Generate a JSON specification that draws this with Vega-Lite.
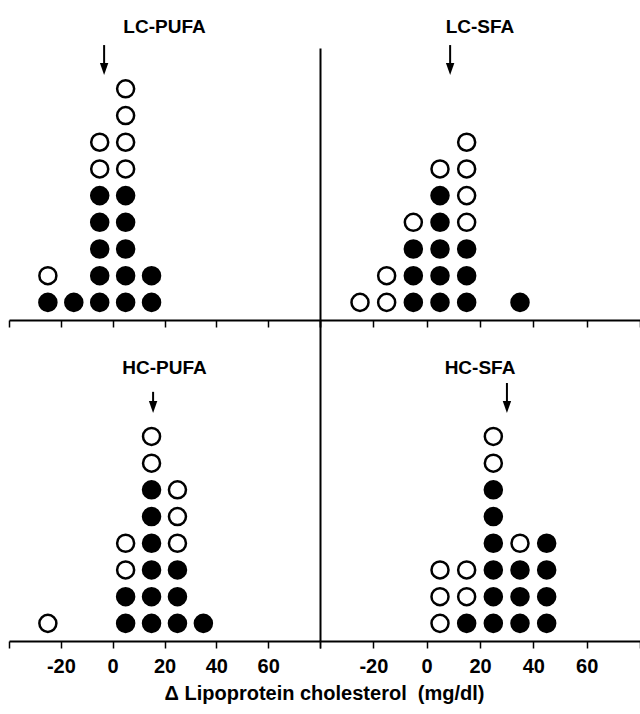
{
  "$schema": "https://vega.github.io/schema/vega-lite/v6.json",
  "padding": {"left": 8, "top": 18, "right": 0, "bottom": 0},
  "title": {"text": "Δ Lipoprotein cholesterol \u00a0(mg/dl)", "orient": "bottom", "anchor": "middle", "fontSize": 20, "fontWeight": "bold", "font": "Liberation Sans", "offset": 8, "color": "black"},
  "datasets": {
    "dots": [
      {"panel": "LC-PUFA", "change": -25, "stack": 1, "kind": "filled"},
      {"panel": "LC-PUFA", "change": -25, "stack": 2, "kind": "open"},
      {"panel": "LC-PUFA", "change": -15, "stack": 1, "kind": "filled"},
      {"panel": "LC-PUFA", "change": -5, "stack": 1, "kind": "filled"},
      {"panel": "LC-PUFA", "change": -5, "stack": 2, "kind": "filled"},
      {"panel": "LC-PUFA", "change": -5, "stack": 3, "kind": "filled"},
      {"panel": "LC-PUFA", "change": -5, "stack": 4, "kind": "filled"},
      {"panel": "LC-PUFA", "change": -5, "stack": 5, "kind": "filled"},
      {"panel": "LC-PUFA", "change": -5, "stack": 6, "kind": "open"},
      {"panel": "LC-PUFA", "change": -5, "stack": 7, "kind": "open"},
      {"panel": "LC-PUFA", "change": 5, "stack": 1, "kind": "filled"},
      {"panel": "LC-PUFA", "change": 5, "stack": 2, "kind": "filled"},
      {"panel": "LC-PUFA", "change": 5, "stack": 3, "kind": "filled"},
      {"panel": "LC-PUFA", "change": 5, "stack": 4, "kind": "filled"},
      {"panel": "LC-PUFA", "change": 5, "stack": 5, "kind": "filled"},
      {"panel": "LC-PUFA", "change": 5, "stack": 6, "kind": "open"},
      {"panel": "LC-PUFA", "change": 5, "stack": 7, "kind": "open"},
      {"panel": "LC-PUFA", "change": 5, "stack": 8, "kind": "open"},
      {"panel": "LC-PUFA", "change": 5, "stack": 9, "kind": "open"},
      {"panel": "LC-PUFA", "change": 15, "stack": 1, "kind": "filled"},
      {"panel": "LC-PUFA", "change": 15, "stack": 2, "kind": "filled"},

      {"panel": "LC-SFA", "change": -25, "stack": 1, "kind": "open"},
      {"panel": "LC-SFA", "change": -15, "stack": 1, "kind": "open"},
      {"panel": "LC-SFA", "change": -15, "stack": 2, "kind": "open"},
      {"panel": "LC-SFA", "change": -5, "stack": 1, "kind": "filled"},
      {"panel": "LC-SFA", "change": -5, "stack": 2, "kind": "filled"},
      {"panel": "LC-SFA", "change": -5, "stack": 3, "kind": "filled"},
      {"panel": "LC-SFA", "change": -5, "stack": 4, "kind": "open"},
      {"panel": "LC-SFA", "change": 5, "stack": 1, "kind": "filled"},
      {"panel": "LC-SFA", "change": 5, "stack": 2, "kind": "filled"},
      {"panel": "LC-SFA", "change": 5, "stack": 3, "kind": "filled"},
      {"panel": "LC-SFA", "change": 5, "stack": 4, "kind": "filled"},
      {"panel": "LC-SFA", "change": 5, "stack": 5, "kind": "filled"},
      {"panel": "LC-SFA", "change": 5, "stack": 6, "kind": "open"},
      {"panel": "LC-SFA", "change": 15, "stack": 1, "kind": "filled"},
      {"panel": "LC-SFA", "change": 15, "stack": 2, "kind": "filled"},
      {"panel": "LC-SFA", "change": 15, "stack": 3, "kind": "filled"},
      {"panel": "LC-SFA", "change": 15, "stack": 4, "kind": "open"},
      {"panel": "LC-SFA", "change": 15, "stack": 5, "kind": "open"},
      {"panel": "LC-SFA", "change": 15, "stack": 6, "kind": "open"},
      {"panel": "LC-SFA", "change": 15, "stack": 7, "kind": "open"},
      {"panel": "LC-SFA", "change": 35, "stack": 1, "kind": "filled"},

      {"panel": "HC-PUFA", "change": -25, "stack": 1, "kind": "open"},
      {"panel": "HC-PUFA", "change": 5, "stack": 1, "kind": "filled"},
      {"panel": "HC-PUFA", "change": 5, "stack": 2, "kind": "filled"},
      {"panel": "HC-PUFA", "change": 5, "stack": 3, "kind": "open"},
      {"panel": "HC-PUFA", "change": 5, "stack": 4, "kind": "open"},
      {"panel": "HC-PUFA", "change": 15, "stack": 1, "kind": "filled"},
      {"panel": "HC-PUFA", "change": 15, "stack": 2, "kind": "filled"},
      {"panel": "HC-PUFA", "change": 15, "stack": 3, "kind": "filled"},
      {"panel": "HC-PUFA", "change": 15, "stack": 4, "kind": "filled"},
      {"panel": "HC-PUFA", "change": 15, "stack": 5, "kind": "filled"},
      {"panel": "HC-PUFA", "change": 15, "stack": 6, "kind": "filled"},
      {"panel": "HC-PUFA", "change": 15, "stack": 7, "kind": "open"},
      {"panel": "HC-PUFA", "change": 15, "stack": 8, "kind": "open"},
      {"panel": "HC-PUFA", "change": 25, "stack": 1, "kind": "filled"},
      {"panel": "HC-PUFA", "change": 25, "stack": 2, "kind": "filled"},
      {"panel": "HC-PUFA", "change": 25, "stack": 3, "kind": "filled"},
      {"panel": "HC-PUFA", "change": 25, "stack": 4, "kind": "open"},
      {"panel": "HC-PUFA", "change": 25, "stack": 5, "kind": "open"},
      {"panel": "HC-PUFA", "change": 25, "stack": 6, "kind": "open"},
      {"panel": "HC-PUFA", "change": 35, "stack": 1, "kind": "filled"},

      {"panel": "HC-SFA", "change": 5, "stack": 1, "kind": "open"},
      {"panel": "HC-SFA", "change": 5, "stack": 2, "kind": "open"},
      {"panel": "HC-SFA", "change": 5, "stack": 3, "kind": "open"},
      {"panel": "HC-SFA", "change": 15, "stack": 1, "kind": "filled"},
      {"panel": "HC-SFA", "change": 15, "stack": 2, "kind": "open"},
      {"panel": "HC-SFA", "change": 15, "stack": 3, "kind": "open"},
      {"panel": "HC-SFA", "change": 25, "stack": 1, "kind": "filled"},
      {"panel": "HC-SFA", "change": 25, "stack": 2, "kind": "filled"},
      {"panel": "HC-SFA", "change": 25, "stack": 3, "kind": "filled"},
      {"panel": "HC-SFA", "change": 25, "stack": 4, "kind": "filled"},
      {"panel": "HC-SFA", "change": 25, "stack": 5, "kind": "filled"},
      {"panel": "HC-SFA", "change": 25, "stack": 6, "kind": "filled"},
      {"panel": "HC-SFA", "change": 25, "stack": 7, "kind": "open"},
      {"panel": "HC-SFA", "change": 25, "stack": 8, "kind": "open"},
      {"panel": "HC-SFA", "change": 35, "stack": 1, "kind": "filled"},
      {"panel": "HC-SFA", "change": 35, "stack": 2, "kind": "filled"},
      {"panel": "HC-SFA", "change": 35, "stack": 3, "kind": "filled"},
      {"panel": "HC-SFA", "change": 35, "stack": 4, "kind": "open"},
      {"panel": "HC-SFA", "change": 45, "stack": 1, "kind": "filled"},
      {"panel": "HC-SFA", "change": 45, "stack": 2, "kind": "filled"},
      {"panel": "HC-SFA", "change": 45, "stack": 3, "kind": "filled"},
      {"panel": "HC-SFA", "change": 45, "stack": 4, "kind": "filled"}
    ],
    "means": [
      {"panel": "LC-PUFA", "mean": -3.3},
      {"panel": "LC-SFA", "mean": 8.8},
      {"panel": "HC-PUFA", "mean": 15.6},
      {"panel": "HC-SFA", "mean": 30.1}
    ]
  },
  "columns": 2,
  "spacing": 0,
  "bounds": "flush",
  "resolve": {"scale": {"x": "independent", "y": "independent"}},
  "concat": [
    {
      "width": 311, "height": 272,
      "title": {"text": "LC-PUFA", "offset": -8, "baseline": "alphabetic"},
      "layer": [
        {
          "data": {"name": "dots"},
          "transform": [{"filter": "datum.panel == 'LC-PUFA'"}],
          "mark": {"type": "point", "shape": "circle", "filled": true, "size": 290, "stroke": "black", "strokeWidth": 2.5, "opacity": 1},
          "encoding": {
            "x": {"field": "change", "type": "quantitative", "scale": {"domain": [-40, 80], "nice": false, "zero": false}, "axis": {"values": [-40, -20, 0, 20, 40, 60, 80], "labels": false, "title": null}},
            "y": {"field": "stack", "type": "quantitative", "scale": {"domain": [0.34, 10.53], "nice": false, "zero": false}, "axis": null},
            "fill": {"field": "kind", "type": "nominal", "scale": {"domain": ["filled", "open"], "range": ["black", "white"]}, "legend": null}
          }
        },
        {
          "data": {"name": "means"},
          "transform": [{"filter": "datum.panel == 'LC-PUFA'"}],
          "mark": {"type": "rule", "strokeWidth": 2, "color": "black"},
          "encoding": {
            "x": {"field": "mean", "type": "quantitative"},
            "y": {"datum": 10.64},
            "y2": {"datum": 9.74}
          }
        },
        {
          "data": {"name": "means"},
          "transform": [{"filter": "datum.panel == 'LC-PUFA'"}],
          "mark": {"type": "point", "shape": "M-0.7,-1L0.7,-1L0,1Z", "filled": true, "size": 144, "color": "black", "opacity": 1},
          "encoding": {
            "x": {"field": "mean", "type": "quantitative"},
            "y": {"datum": 9.74}
          }
        }
      ]
    },
    {
      "width": 320, "height": 272,
      "title": {"text": "LC-SFA", "offset": -8, "baseline": "alphabetic"},
      "layer": [
        {
          "data": {"name": "dots"},
          "transform": [{"filter": "datum.panel == 'LC-SFA'"}],
          "mark": {"type": "point", "shape": "circle", "filled": true, "size": 290, "stroke": "black", "strokeWidth": 2.5, "opacity": 1},
          "encoding": {
            "x": {"field": "change", "type": "quantitative", "scale": {"domain": [-40, 80], "nice": false, "zero": false}, "axis": {"values": [-40, -20, 0, 20, 40, 60, 80], "labels": false, "title": null}},
            "y": {"field": "stack", "type": "quantitative", "scale": {"domain": [0.34, 10.53], "nice": false, "zero": false}, "axis": {"orient": "left", "ticks": false, "labels": false, "title": null, "domain": true}},
            "fill": {"field": "kind", "type": "nominal", "scale": {"domain": ["filled", "open"], "range": ["black", "white"]}, "legend": null}
          }
        },
        {
          "data": {"name": "means"},
          "transform": [{"filter": "datum.panel == 'LC-SFA'"}],
          "mark": {"type": "rule", "strokeWidth": 2, "color": "black"},
          "encoding": {
            "x": {"field": "mean", "type": "quantitative"},
            "y": {"datum": 10.64},
            "y2": {"datum": 9.74}
          }
        },
        {
          "data": {"name": "means"},
          "transform": [{"filter": "datum.panel == 'LC-SFA'"}],
          "mark": {"type": "point", "shape": "M-0.7,-1L0.7,-1L0,1Z", "filled": true, "size": 144, "color": "black", "opacity": 1},
          "encoding": {
            "x": {"field": "mean", "type": "quantitative"},
            "y": {"datum": 9.74}
          }
        }
      ]
    },
    {
      "width": 311, "height": 321,
      "title": {"text": "HC-PUFA", "offset": -73, "baseline": "alphabetic"},
      "layer": [
        {
          "data": {"name": "dots"},
          "transform": [{"filter": "datum.panel == 'HC-PUFA'"}],
          "mark": {"type": "point", "shape": "circle", "filled": true, "size": 290, "stroke": "black", "strokeWidth": 2.5, "opacity": 1},
          "encoding": {
            "x": {"field": "change", "type": "quantitative", "scale": {"domain": [-40, 80], "nice": false, "zero": false}, "axis": {"values": [-40, -20, 0, 20, 40, 60, 80], "labelExpr": "datum.value == -40 || datum.value == 80 ? '' : toString(datum.value)", "labelFlush": false, "labelOverlap": false, "labelFontWeight": "bold", "labelFontSize": 20, "title": null}},
            "y": {"field": "stack", "type": "quantitative", "scale": {"domain": [0.34, 12.36], "nice": false, "zero": false}, "axis": null},
            "fill": {"field": "kind", "type": "nominal", "scale": {"domain": ["filled", "open"], "range": ["black", "white"]}, "legend": null}
          }
        },
        {
          "data": {"name": "means"},
          "transform": [{"filter": "datum.panel == 'HC-PUFA'"}],
          "mark": {"type": "rule", "strokeWidth": 2, "color": "black"},
          "encoding": {
            "x": {"field": "mean", "type": "quantitative"},
            "y": {"datum": 9.67},
            "y2": {"datum": 9.1}
          }
        },
        {
          "data": {"name": "means"},
          "transform": [{"filter": "datum.panel == 'HC-PUFA'"}],
          "mark": {"type": "point", "shape": "M-0.7,-1L0.7,-1L0,1Z", "filled": true, "size": 144, "color": "black", "opacity": 1},
          "encoding": {
            "x": {"field": "mean", "type": "quantitative"},
            "y": {"datum": 9.1}
          }
        }
      ]
    },
    {
      "width": 320, "height": 321,
      "title": {"text": "HC-SFA", "offset": -73, "baseline": "alphabetic"},
      "layer": [
        {
          "data": {"name": "dots"},
          "transform": [{"filter": "datum.panel == 'HC-SFA'"}],
          "mark": {"type": "point", "shape": "circle", "filled": true, "size": 290, "stroke": "black", "strokeWidth": 2.5, "opacity": 1},
          "encoding": {
            "x": {"field": "change", "type": "quantitative", "scale": {"domain": [-40, 80], "nice": false, "zero": false}, "axis": {"values": [-40, -20, 0, 20, 40, 60, 80], "labelExpr": "datum.value == -40 || datum.value == 80 ? '' : toString(datum.value)", "labelFlush": false, "labelOverlap": false, "labelFontWeight": "bold", "labelFontSize": 20, "title": null}},
            "y": {"field": "stack", "type": "quantitative", "scale": {"domain": [0.34, 12.36], "nice": false, "zero": false}, "axis": {"orient": "left", "ticks": false, "labels": false, "title": null, "domain": true}},
            "fill": {"field": "kind", "type": "nominal", "scale": {"domain": ["filled", "open"], "range": ["black", "white"]}, "legend": null}
          }
        },
        {
          "data": {"name": "means"},
          "transform": [{"filter": "datum.panel == 'HC-SFA'"}],
          "mark": {"type": "rule", "strokeWidth": 2, "color": "black"},
          "encoding": {
            "x": {"field": "mean", "type": "quantitative"},
            "y": {"datum": 10.0},
            "y2": {"datum": 9.1}
          }
        },
        {
          "data": {"name": "means"},
          "transform": [{"filter": "datum.panel == 'HC-SFA'"}],
          "mark": {"type": "point", "shape": "M-0.7,-1L0.7,-1L0,1Z", "filled": true, "size": 144, "color": "black", "opacity": 1},
          "encoding": {
            "x": {"field": "mean", "type": "quantitative"},
            "y": {"datum": 9.1}
          }
        }
      ]
    }
  ],
  "config": {
    "view": {"stroke": null},
    "axis": {"domainColor": "black", "domainWidth": 2, "tickColor": "black", "tickWidth": 1.5, "tickSize": 7, "labelFont": "Liberation Sans", "labelFontSize": 20, "labelFontWeight": "bold", "labelColor": "black", "labelPadding": 8, "grid": false},
    "title": {"font": "Liberation Sans", "fontSize": 19, "fontWeight": "bold", "color": "black", "anchor": "middle"}
  }
}
